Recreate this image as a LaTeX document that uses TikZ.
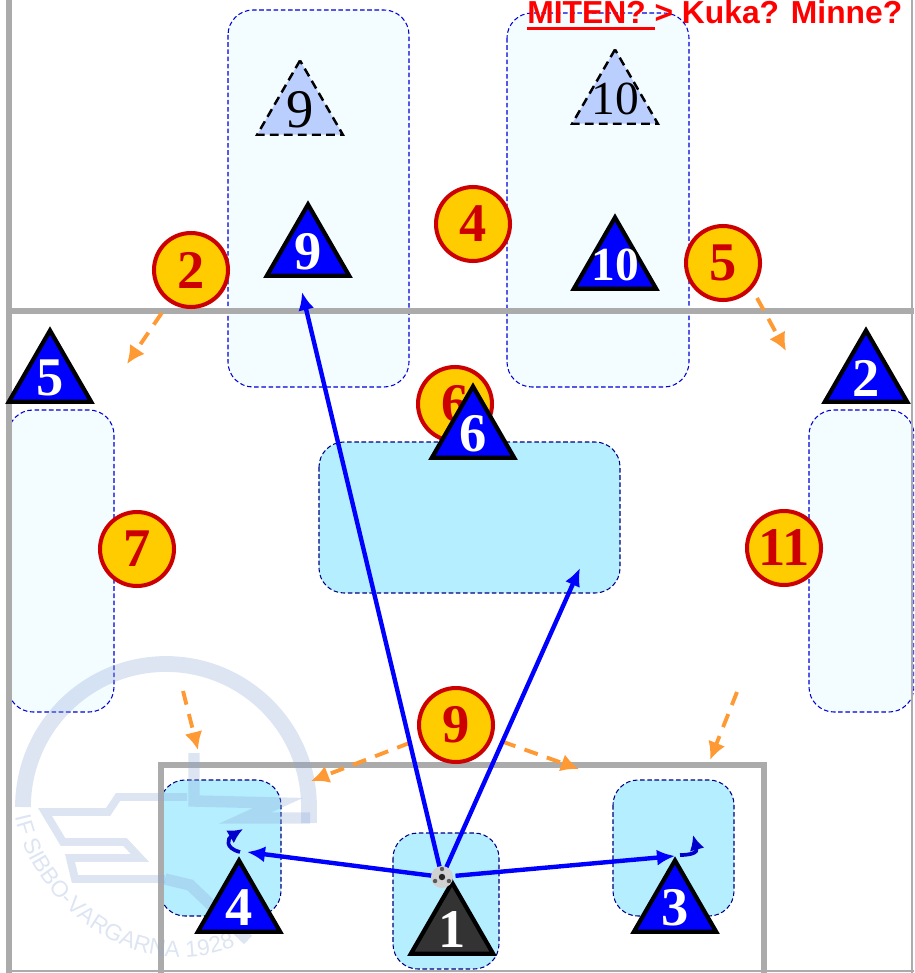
\documentclass[tikz,border=0pt]{standalone}
\usepackage{fontspec}
\setmainfont{Liberation Serif}
\setsansfont{Liberation Sans}
\usetikzlibrary{arrows.meta, shapes, decorations.text}
\definecolor{zonepale}{HTML}{F3FCFF}
\definecolor{zonedeep}{HTML}{B5EEFF}
\definecolor{spotfill}{HTML}{FFCC00}
\definecolor{spotline}{HTML}{CC0000}
\definecolor{ghostfill}{HTML}{BBCFFF}
\definecolor{driftcol}{HTML}{FF9933}
\definecolor{pitchcol}{HTML}{ABABAB}
\definecolor{keepercol}{HTML}{333333}
\definecolor{logocol}{HTML}{8FA8D8}

\begin{document}
\begin{tikzpicture}[x=0.02cm, y=-0.02cm,
zone/.style={draw=blue!85!black, fill=zonepale, line width=0.6pt, rounded corners=0.5cm, dash pattern=on 2.6pt off 1.5pt},
zonedark/.style={draw=blue!50!black, fill=zonedeep, line width=0.6pt, rounded corners=0.5cm, dash pattern=on 2.6pt off 1.5pt},
pitch/.style={draw=pitchcol, line width=2.9pt},
spot/.style={circle, draw=spotline, fill=spotfill, line width=2.3pt, minimum size=1.48cm, inner sep=0pt, outer sep=0pt, text=spotline, font=\fontsize{31}{31}\selectfont\bfseries},
player/.style={regular polygon, regular polygon sides=3, draw=black, fill=blue, line width=2.4pt, minimum size=1.9cm, inner sep=0pt, outer sep=0pt, label={[text=white, font=\fontsize{31}{31}\selectfont\bfseries]center:#1}},
keeper/.style={player=#1, fill=keepercol},
ghost/.style={regular polygon, regular polygon sides=3, draw=black, fill=ghostfill, line width=1.4pt, dash pattern=on 5pt off 3pt, minimum size=1.98cm, inner sep=0pt, outer sep=0pt, label={[text=black, font=\fontsize{31}{31}\selectfont]center:#1}},
pass/.style={draw=blue, line width=2.5pt, -{Latex[length=0.36cm, width=0.32cm]}},
turn/.style={draw=blue!80!black, line width=2.1pt, -{Latex[length=0.3cm, width=0.3cm]}},
drift/.style={draw=driftcol, line width=2.2pt, dash pattern=on 8pt off 5.5pt, -{Latex[length=0.36cm, width=0.36cm]}},
logoline/.style={draw=logocol, opacity=0.3, line width=6.5pt}]
\useasboundingbox (0,0) rectangle (914,973);
\clip (0,0) rectangle (914,973);
%================================================================
% Zones
\draw[zone] (228,10) rectangle (409,387);
\draw[zone] (507,13) rectangle (689,387);
\draw[zone] (8,410) rectangle (114,712);
\draw[zone] (809,410) rectangle (914,712);
\draw[zonedark] (319,442) rectangle (620,593);
\draw[zonedark] (160,780) rectangle (281,916);
\draw[zonedark] (393,833) rectangle (499,969);
\draw[zonedark] (613,780) rectangle (734,916);

%================================================================
% Pitch
\draw[pitch] (9,0) -- (9,973);
\draw[pitch, line width=1.5pt] (912,0) -- (912,973);
\draw[pitch] (9,311) -- (914,311);
\draw[pitch] (161,973) -- (161,765) -- (764,765) -- (764,973);
\draw[pitch, line width=1.5pt] (9,971) -- (914,971);

%================================================================
% Logo
\draw[logoline, line width=9pt] (23,807) arc[start angle=180, end angle=360, radius=143] -- (309,823);
\draw[logoline] (194,753) -- (194,801) -- (278,803) -- (245,818) -- (310,818);
\draw[logoline, line width=4.5pt] (187,797) -- (118,797) -- (108,812) -- (45,812) -- (63,842) -- (125,842) -- (140,858) -- (70,858) -- (75,879) -- (165,879);
\draw[logoline] (165,879) -- (190,885) -- (248,940);
\path[opacity=0.3, postaction={decorate}, decoration={text along path, text align=center,
  text={|\color{logocol}\sffamily\fontsize{13}{13}\selectfont|IF SIBBO-VARGARNA 1928}}]
  (14,812) .. controls (30,900) and (130,990) .. (240,945);

%================================================================
% Text
\node[text=red, anchor=base west, inner sep=0pt, font=\sffamily\bfseries\fontsize{18.1}{18}\selectfont] (question) at (527,24) {MITEN? > Kuka? Minne?};
\coordinate (lineA) at (527,28.5);
\coordinate (lineB) at (655,28.5);
\draw[red, line width=2pt] (lineA) -- (lineB);

%================================================================
% Spots
\node[spot] (s2) at (191,270) {2};
\node[spot] (s4) at (473,224) {4};
\node[spot] (s5) at (723,263) {5};
\node[spot] (s6) at (455,404) {6};
\node[spot] (s7) at (137,549) {7};
\node[spot] (s11) at (784,548) {11};
\node[spot] (s9) at (456,725) {9};

%================================================================
% Players
\node[ghost=9] (g9) at (300,110) {};
\node[ghost={\fontsize{27}{27}\selectfont 10}] (g10) at (615,99) {};
\node[player=9] (p9) at (308,252) {};
\node[player={\fontsize{27}{27}\selectfont 10}] (p10) at (615,265) {};
\node[player=5] (p5) at (50,378) {};
\node[player=2] (p2) at (866,378) {};
\node[player=6] (p6) at (473,434) {};
\node[player=4] (p4) at (239,908) {};
\node[player=3] (p3) at (675,908) {};
\node[keeper=1] (p1) at (452,930) {};

%================================================================
% Drifts
\coordinate (d2) at (127,364);
\coordinate (d5a) at (757,298);
\coordinate (d5) at (786,351);
\coordinate (d7a) at (183,691);
\coordinate (d7) at (198,750);
\coordinate (d9l) at (311,781);
\coordinate (d9r) at (579,769);
\coordinate (d11a) at (737,692);
\coordinate (d11) at (710,760);
\draw[drift, shorten <=0.3cm] (s2) -- (d2);
\draw[drift] (d5a) -- (d5);
\draw[drift] (d7a) -- (d7);
\draw[drift, shorten <=0.24cm] (s9) -- (d9l);
\draw[drift, shorten <=0.24cm] (s9) -- (d9r);
\draw[drift] (d11a) -- (d11);

%================================================================
% Ball and passes
\node[circle, inner sep=0pt, minimum size=0.42cm, outer sep=0pt] (ball) at (442,877) {};
\coordinate (t9) at (302,292);
\coordinate (t10) at (580,568);
\coordinate (t4) at (247,852);
\coordinate (t3) at (675,856);
\draw[pass] (ball) -- (t9);
\draw[pass] (ball) -- (t10);
\draw[pass] (ball) -- (t4);
\draw[pass, shorten <=0.06cm] (ball) -- (t3);
\fill[black!18] (ball) circle[radius=11];
\fill[black!85] (ball) circle[radius=3.2];
\foreach \a in {30,150,270}
  \fill[black!65] (ball) ++(\a:8) circle[radius=2.2];

% Turns
\coordinate (u4a) at (240,852);
\coordinate (u4) at (243,829);
\coordinate (u3a) at (680,855);
\coordinate (u3) at (693,835);
\draw[turn] (u4a) .. controls (224,848) and (228,838) .. (u4);
\draw[turn] (u3a) .. controls (690,855) and (698,853) .. (u3);

%================================================================
\end{tikzpicture}
\end{document}
